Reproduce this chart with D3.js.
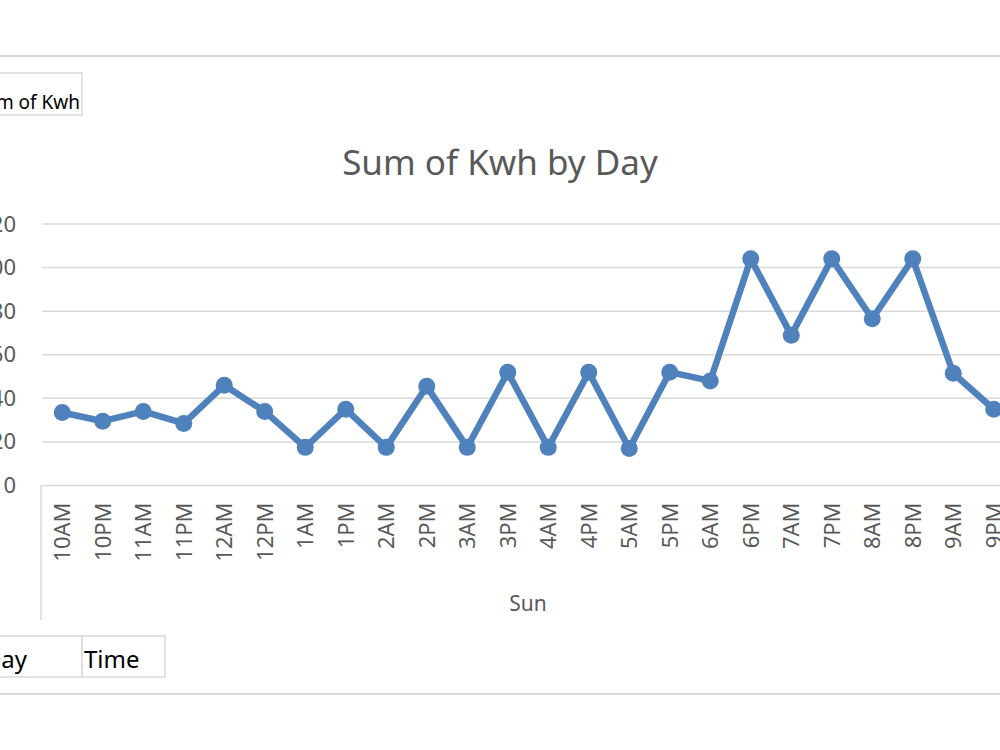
<!DOCTYPE html>
<html>
<head>
<meta charset="utf-8">
<script src="https://cdn.jsdelivr.net/npm/d3@7"></script>
<style>
  body { margin: 0; background: #fff; }
  svg { display: block; }
</style>
</head>
<body>
<div id="chart"></div>
<script>
// Data (day "Sun")
const times = ["10AM", "10PM", "11AM", "11PM", "12AM", "12PM", "1AM", "1PM", "2AM", "2PM",
  "3AM", "3PM", "4AM", "4PM", "5AM", "5PM", "6AM", "6PM", "7AM", "7PM", "8AM", "8PM", "9AM", "9PM"];
const kwh = [33.5, 29.5, 34, 28.5, 46, 34, 17.5, 35, 17.5, 45.5,
  17.5, 52, 17.5, 52, 17, 52, 48, 104, 69, 104, 76.5, 104, 51.5, 35];
const yTicks = [0, 20, 40, 60, 80, 100, 120];
const dayLabel = "Sun";

const width = 1000, height = 750;
const font = "'Noto Sans', 'Open Sans', sans-serif";
const gray = "#595959";
const lineGray = "#d9d9d9";

const svg = d3.select("#chart").append("svg")
  .attr("width", width)
  .attr("height", height);

// Scales
const xScale = d3.scaleBand()
  .domain(times)
  .range([42, 42 + times.length * 40.5]);

const yScale = d3.scaleLinear()
  .domain([0, 120])
  .range([485.5, 224]);

// Outer chart borders (top and bottom)
svg.append("line")
  .attr("x1", 0).attr("x2", width)
  .attr("y1", 56).attr("y2", 56)
  .attr("stroke", lineGray).attr("stroke-width", 2);
svg.append("line")
  .attr("x1", 0).attr("x2", width)
  .attr("y1", 694).attr("y2", 694)
  .attr("stroke", lineGray).attr("stroke-width", 2);

// "Sum of Kwh" value field button
svg.append("rect")
  .attr("x", -60).attr("y", 73)
  .attr("width", 142).attr("height", 42)
  .attr("fill", "#fff").attr("stroke", lineGray).attr("stroke-width", 1.5);
svg.append("text")
  .attr("x", 80).attr("y", 109)
  .attr("text-anchor", "end")
  .style("font-family", font).style("font-size", "19px")
  .attr("fill", "#000")
  .text("Sum of Kwh");

// Title
svg.append("text")
  .attr("x", 500).attr("y", 175)
  .attr("text-anchor", "middle")
  .style("font-family", font).style("font-size", "35px")
  .attr("fill", gray)
  .text("Sum of Kwh by Day");

// Gridlines
svg.selectAll(".grid")
  .data(yTicks.filter(d => d > 0))
  .enter()
  .append("line")
  .attr("class", "grid")
  .attr("x1", 42).attr("x2", width)
  .attr("y1", d => yScale(d)).attr("y2", d => yScale(d))
  .attr("stroke", lineGray).attr("stroke-width", 1.5);

// Y axis labels
const yAxis = svg.append("g")
  .attr("transform", "translate(16,0)")
  .call(d3.axisLeft(yScale).tickValues(yTicks).tickSize(0).tickPadding(0));
yAxis.select(".domain").remove();
yAxis.selectAll("text")
  .style("font-family", font).style("font-size", "22px")
  .attr("fill", gray);

// X axis line and the pivot field separator
svg.append("line")
  .attr("x1", 41).attr("x2", width)
  .attr("y1", 485.5).attr("y2", 485.5)
  .attr("stroke", lineGray).attr("stroke-width", 1.5);
svg.append("line")
  .attr("x1", 41).attr("x2", 41)
  .attr("y1", 485.5).attr("y2", 620)
  .attr("stroke", lineGray).attr("stroke-width", 1.5);

// X axis labels (rotated)
const xAxis = svg.append("g")
  .attr("transform", "translate(0,485.5)")
  .call(d3.axisBottom(xScale).tickSize(0).tickPadding(0));
xAxis.select(".domain").remove();
xAxis.selectAll("text")
  .style("font-family", font).style("font-size", "22px")
  .attr("fill", gray)
  .attr("transform", "rotate(-90)")
  .attr("x", -17)
  .attr("y", 0)
  .attr("dy", "0.36em")
  .style("text-anchor", "end");

// Day group label
svg.append("text")
  .attr("x", (xScale.range()[0] + xScale.range()[1]) / 2)
  .attr("y", 611)
  .attr("text-anchor", "middle")
  .style("font-family", font).style("font-size", "21px")
  .attr("fill", gray)
  .text(dayLabel);

// Line series
const points = times.map((t, i) => ({ t: t, v: kwh[i] }));
const line = d3.line()
  .x(d => xScale(d.t) + xScale.bandwidth() / 2)
  .y(d => yScale(d.v));

svg.append("path")
  .datum(points)
  .attr("d", line)
  .attr("fill", "none")
  .attr("stroke", "#4f81bd")
  .attr("stroke-width", 6.5)
  .attr("stroke-linejoin", "round");

svg.selectAll(".dot")
  .data(points)
  .enter()
  .append("circle")
  .attr("class", "dot")
  .attr("cx", d => xScale(d.t) + xScale.bandwidth() / 2)
  .attr("cy", d => yScale(d.v))
  .attr("r", 8.5)
  .attr("fill", "#4f81bd");

// Row field buttons: Day, Time
svg.append("rect")
  .attr("x", -60).attr("y", 636)
  .attr("width", 142).attr("height", 41)
  .attr("fill", "#fff").attr("stroke", lineGray).attr("stroke-width", 1.5);
svg.append("rect")
  .attr("x", 82).attr("y", 636)
  .attr("width", 83).attr("height", 41)
  .attr("fill", "#fff").attr("stroke", lineGray).attr("stroke-width", 1.5);
svg.append("text")
  .attr("x", 27).attr("y", 668)
  .attr("text-anchor", "end")
  .style("font-family", font).style("font-size", "24px")
  .attr("fill", "#000")
  .text("Day");
svg.append("text")
  .attr("x", 84).attr("y", 668)
  .style("font-family", font).style("font-size", "24px")
  .attr("fill", "#000")
  .text("Time");
</script>
</body>
</html>
